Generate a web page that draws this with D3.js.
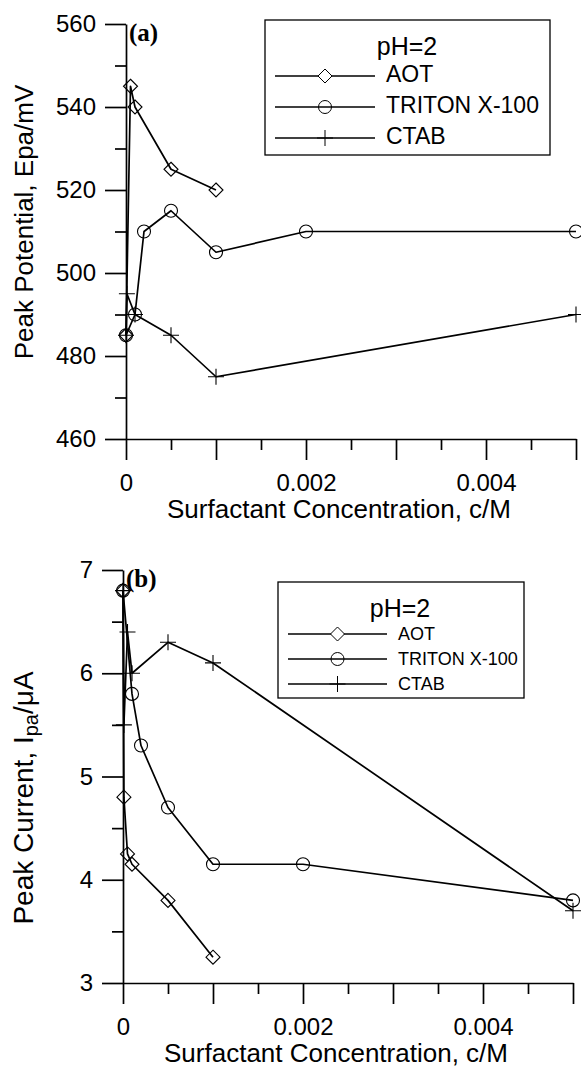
<!DOCTYPE html>
<html>
<head>
<meta charset="utf-8">
<script src="https://cdn.jsdelivr.net/npm/d3@7"></script>
<style>
  body { margin: 0; background: #fff; }
  svg { display: block; font-family: "Liberation Sans", Arial, sans-serif; }
</style>
</head>
<body>
<script>

// series shown in both panels
var seriesNames = ["AOT", "TRITON X-100", "CTAB"];
var legendTitle = "pH=2";

// panel (a): peak potential, Epa/mV
var concAotA = [0, 0.00005, 0.0001, 0.0005, 0.001];
var potentialAot = [485, 545, 540, 525, 520];
var concTritonA = [0, 0.0001, 0.0002, 0.0005, 0.001, 0.002, 0.005];
var potentialTriton = [485, 490, 510, 515, 505, 510, 510];
var concCtabA = [0, 0.00001, 0.0001, 0.0005, 0.001, 0.005];
var potentialCtab = [485, 495, 490, 485, 475, 490];

// panel (b): peak current, Ipa/uA
var concAotB = [0, 0.00001, 0.00005, 0.0001, 0.0005, 0.001];
var currentAot = [6.8, 4.8, 4.25, 4.15, 3.8, 3.25];
var concTritonB = [0, 0.0001, 0.0002, 0.0005, 0.001, 0.002, 0.005];
var currentTriton = [6.8, 5.8, 5.3, 4.7, 4.15, 4.15, 3.8];
var concCtabB = [0, 0.00001, 0.00005, 0.0001, 0.0005, 0.001, 0.005];
var currentCtab = [6.8, 5.5, 6.4, 6.0, 6.3, 6.1, 3.7];

// ticks
var xMajorTicks = [0, 0.001, 0.002, 0.003, 0.004, 0.005];
var xMinorTicks = [0.0005, 0.0015, 0.0025, 0.0035, 0.0045];
var xLabelledTicks = [0, 0.002, 0.004];
var potentialMajorTicks = [460, 480, 500, 520, 540, 560];
var potentialMinorTicks = [470, 490, 510, 530, 550];
var currentMajorTicks = [3, 4, 5, 6, 7];
var currentMinorTicks = [3.5, 4.5, 5.5, 6.5];


window.onload = function() {
  main();
};


function main() {
  /*
  Builds both panels in one svg.
  */

  var svg = d3.select("body")
              .append("svg")
              .attr("width", 581)
              .attr("height", 1068);

  var panelA = {
    left: 126, right: 576, top: 24, bottom: 439,
    domain: [460, 560],
    majorTicks: potentialMajorTicks,
    minorTicks: potentialMinorTicks,
    tag: "(a)",
    yLabel: ["Peak Potential, Epa/mV"],
    yLabelCenter: 222, yLabelSize: 26,
    legend: {x: 265, y: 20, w: 285, h: 135, titleSize: 25, titleX: 142, titleY: 35,
             itemSize: 23, firstY: 62, step: 31, lineX: 10, lineW: 100, textX: 121}
  };
  var panelB = {
    left: 123, right: 573, top: 570, bottom: 983,
    domain: [3, 7],
    majorTicks: currentMajorTicks,
    minorTicks: currentMinorTicks,
    tag: "(b)",
    yLabel: ["Peak Current, I", "pa", "/\u03bcA"],
    yLabelCenter: 798, yLabelSize: 28,
    legend: {x: 278, y: 582, w: 246, h: 116, titleSize: 25, titleX: 122, titleY: 35,
             itemSize: 18, firstY: 58, step: 25, lineX: 10, lineW: 99, textX: 120}
  };

  var seriesA = [
    {name: seriesNames[0], conc: concAotA, values: potentialAot, symbol: "diamond"},
    {name: seriesNames[1], conc: concTritonA, values: potentialTriton, symbol: "circle"},
    {name: seriesNames[2], conc: concCtabA, values: potentialCtab, symbol: "plus"}
  ];
  var seriesB = [
    {name: seriesNames[0], conc: concAotB, values: currentAot, symbol: "diamond"},
    {name: seriesNames[1], conc: concTritonB, values: currentTriton, symbol: "circle"},
    {name: seriesNames[2], conc: concCtabB, values: currentCtab, symbol: "plus"}
  ];

  panelMaker(svg, panelA, seriesA);
  panelMaker(svg, panelB, seriesB);
};


function panelMaker(svg, panel, series) {
  /*
  Draws axes, lines, markers and legend of one panel.
  */

  var xScale = d3.scaleLinear()
                 .domain([0, 0.005])
                 .range([panel.left, panel.right]);
  var yScale = d3.scaleLinear()
                 .domain(panel.domain)
                 .range([panel.bottom, panel.top]);

  axesMaker(svg, panel, xScale, yScale);

  // lines
  var line = d3.line()
               .x(function(d) { return xScale(d[0]); })
               .y(function(d) { return yScale(d[1]); });

  series.forEach(function(s) {
    var points = s.conc.map(function(c, i) { return [c, s.values[i]]; });

    svg.append("path")
       .datum(points)
       .attr("d", line)
       .attr("fill", "none")
       .attr("stroke", "#000")
       .attr("stroke-width", 1.7)
       .attr("stroke-linejoin", "round");

    svg.selectAll(null)
       .data(points)
       .enter()
       .append("path")
       .attr("transform", function(d) {
         return "translate(" + xScale(d[0]) + "," + yScale(d[1]) + ")";
       })
       .attr("d", symbolPath(s.symbol))
       .attr("fill", "none")
       .attr("stroke", "#000")
       .attr("stroke-width", 1.1);
  });

  // panel tag
  svg.append("text")
     .attr("x", panel.left + 3)
     .attr("y", panel.top + 17)
     .style("font-family", "'Liberation Serif', 'Times New Roman', serif")
     .style("font-weight", "bold")
     .style("font-size", "25px")
     .text(panel.tag);

  legendMaker(svg, panel.legend, series);
};


function symbolPath(name) {
  /*
  Path strings for the hollow markers.
  */
  if (name === "diamond") {
    return "M0,-7L7,0L0,7L-7,0Z";
  }
  if (name === "circle") {
    return "M6.5,0A6.5,6.5,0,1,1,-6.5,0A6.5,6.5,0,1,1,6.5,0Z";
  }
  return "M-8,0H8M0,-8V8";
};


function axesMaker(svg, panel, xScale, yScale) {
  /*
  Bottom and left axes with long major and short minor ticks.
  */

  var xFormat = function(d) {
    if (xLabelledTicks.indexOf(d) < 0) return "";
    return d === 0 ? "0" : d3.format(".3f")(d);
  };

  var xMinor = svg.append("g")
                  .attr("transform", "translate(0," + panel.bottom + ")")
                  .call(d3.axisBottom(xScale).tickValues(xMinorTicks)
                          .tickSize(11).tickFormat(""));
  var xMajor = svg.append("g")
                  .attr("transform", "translate(0," + panel.bottom + ")")
                  .call(d3.axisBottom(xScale).tickValues(xMajorTicks)
                          .tickSize(21).tickSizeOuter(0).tickPadding(14)
                          .tickFormat(xFormat));

  var yMinor = svg.append("g")
                  .attr("transform", "translate(" + panel.left + ",0)")
                  .call(d3.axisLeft(yScale).tickValues(panel.minorTicks)
                          .tickSize(11).tickFormat(""));
  var yMajor = svg.append("g")
                  .attr("transform", "translate(" + panel.left + ",0)")
                  .call(d3.axisLeft(yScale).tickValues(panel.majorTicks)
                          .tickSize(21).tickSizeOuter(0).tickPadding(9)
                          .tickFormat(d3.format("d")));

  [xMinor, xMajor, yMinor, yMajor].forEach(function(g) {
    g.attr("font-family", null).attr("font-size", null);
    g.selectAll("line").attr("stroke", "#000").attr("stroke-width", 1.7);
    g.selectAll(".domain").attr("stroke", "#000").attr("stroke-width", 1.7);
    g.selectAll("text").attr("fill", "#000").style("font-size", "24px");
  });
  xMinor.select(".domain").remove();
  yMinor.select(".domain").remove();

  // x label
  svg.append("text")
     .attr("x", (panel.left + panel.right) / 2 - 12)
     .attr("y", panel.bottom + 79)
     .style("text-anchor", "middle")
     .style("font-size", "26px")
     .text("Surfactant Concentration, c/M");

  // y label, the second piece is a subscript if present
  var yText = svg.append("text")
                 .attr("transform", "translate(33," + panel.yLabelCenter + ") rotate(-90)")
                 .style("text-anchor", "middle")
                 .style("font-size", panel.yLabelSize + "px");
  yText.append("tspan").text(panel.yLabel[0]);
  if (panel.yLabel.length > 1) {
    yText.append("tspan").attr("dy", 5).style("font-size", "20px").text(panel.yLabel[1]);
    yText.append("tspan").attr("dy", -5).text(panel.yLabel[2]);
  }
};


function legendMaker(svg, lg, series) {
  /*
  Boxed legend with a title line and one row per series.
  */

  var g = svg.append("g")
             .attr("transform", "translate(" + lg.x + "," + lg.y + ")");

  g.append("rect")
   .attr("width", lg.w)
   .attr("height", lg.h)
   .attr("fill", "#fff")
   .attr("stroke", "#000")
   .attr("stroke-width", 1.3);

  g.append("text")
   .attr("x", lg.titleX)
   .attr("y", lg.titleY)
   .style("text-anchor", "middle")
   .style("font-size", lg.titleSize + "px")
   .text(legendTitle);

  series.forEach(function(s, i) {
    var yRow = lg.firstY + i * lg.step;

    g.append("line")
     .attr("x1", lg.lineX)
     .attr("x2", lg.lineX + lg.lineW)
     .attr("y1", yRow - 6)
     .attr("y2", yRow - 6)
     .attr("stroke", "#000")
     .attr("stroke-width", 1.6);

    g.append("path")
     .attr("transform", "translate(" + (lg.lineX + lg.lineW / 2) + "," + (yRow - 6) + ")")
     .attr("d", symbolPath(s.symbol))
     .attr("fill", s.symbol === "diamond" ? "#fff" : "none")
     .attr("stroke", "#000")
     .attr("stroke-width", 1);

    g.append("text")
     .attr("x", lg.textX)
     .attr("y", yRow)
     .style("font-size", lg.itemSize + "px")
     .text(s.name);
  });
};

</script>
</body>
</html>
